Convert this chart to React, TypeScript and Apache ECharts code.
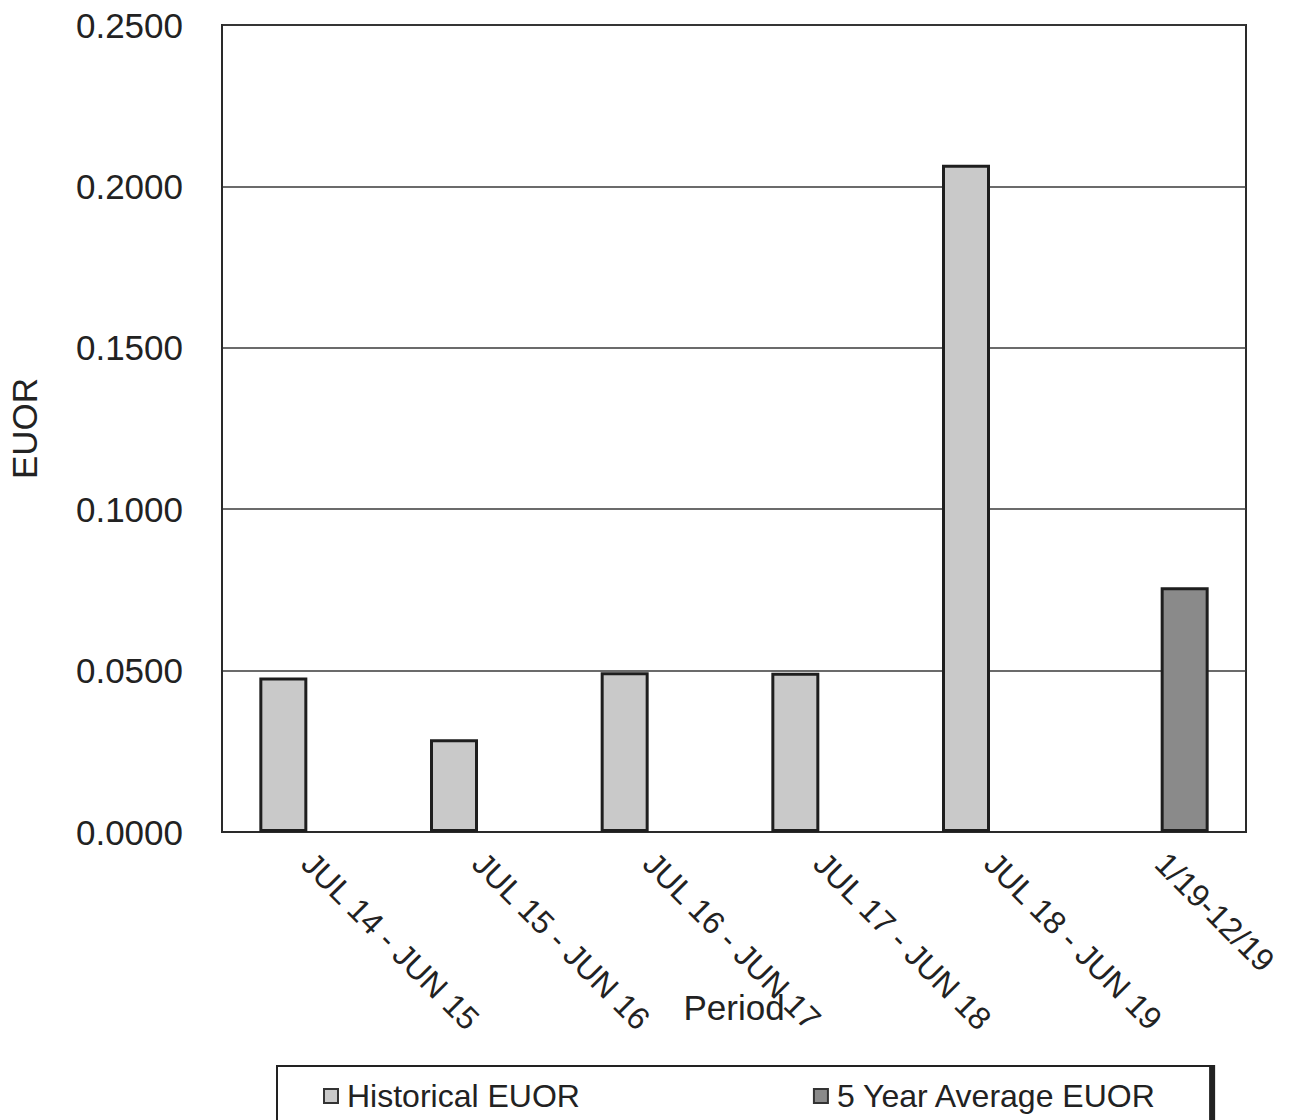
import React, { useEffect, useRef } from "react";
import * as echarts from "echarts";

// Reporting periods along the x axis
const periods = [
  "JUL 14 - JUN 15",
  "JUL 15 - JUN 16",
  "JUL 16 - JUN 17",
  "JUL 17 - JUN 18",
  "JUL 18 - JUN 19",
  "1/19-12/19",
];

// EUOR per period; "-" leaves the slot empty
const historicalEUOR: (number | string)[] = [0.0479, 0.0287, 0.0495, 0.0493, 0.2067, "-"];
const fiveYearAverageEUOR: (number | string)[] = ["-", "-", "-", "-", "-", 0.0758];

const yMin = 0;
const yMax = 0.25;
const yStep = 0.05;

const FONT = "Liberation Sans, Arial, sans-serif";

export default function App() {
  const ref = useRef<HTMLDivElement>(null);

  useEffect(() => {
    if (!ref.current) return;
    const chart = echarts.init(ref.current, undefined, { renderer: "svg" });
    chart.setOption({
      animation: false,
      backgroundColor: "#ffffff",
      textStyle: { fontFamily: FONT, color: "#222" },
      grid: {
        left: 222,
        right: 43,
        top: 25,
        bottom: 288,
        containLabel: false,
        outerBoundsMode: "none",
        show: true,
        borderColor: "#2a2a2a",
        borderWidth: 2,
        backgroundColor: "#ffffff",
      },
      legend: {
        left: 277,
        top: 1066,
        padding: [14, 53, 14, 46],
        itemGap: 233,
        itemWidth: 14,
        itemHeight: 14,
        icon: "rect",
        borderColor: "#222",
        borderWidth: 2,
        shadowColor: "#222",
        shadowOffsetX: 4,
        shadowOffsetY: 0,
        shadowBlur: 0,
        backgroundColor: "#ffffff",
        textStyle: { fontSize: 32, fontFamily: FONT, color: "#222", padding: [0, 0, 0, 4] },
        itemStyle: { borderColor: "#333", borderWidth: 2 },
        data: ["Historical EUOR", "5 Year Average EUOR"],
      },
      xAxis: {
        type: "category",
        data: periods,
        name: "Period",
        nameLocation: "middle",
        nameGap: 158,
        nameMoveOverlap: false,
        nameTextStyle: { fontSize: 35, fontFamily: FONT, color: "#222" },
        axisLine: { show: true, lineStyle: { color: "#2a2a2a", width: 2 } },
        axisTick: { show: false },
        axisLabel: {
          rotate: -45,
          fontSize: 32,
          fontFamily: FONT,
          color: "#222",
          margin: 26,
          interval: 0,
          hideOverlap: false,
        },
      },
      yAxis: {
        type: "value",
        min: yMin,
        max: yMax,
        interval: yStep,
        name: "EUOR",
        nameLocation: "middle",
        nameGap: 180,
        nameRotate: 90,
        nameMoveOverlap: false,
        nameTextStyle: { fontSize: 35, fontFamily: FONT, color: "#222" },
        axisLine: { show: true, lineStyle: { color: "#2a2a2a", width: 2 } },
        axisTick: { show: false },
        axisLabel: {
          fontSize: 35,
          fontFamily: FONT,
          color: "#222",
          margin: 39,
          formatter: (v: number) => v.toFixed(4),
        },
        splitLine: { show: true, lineStyle: { color: "#3a3a3a", width: 1.5 } },
      },
      series: [
        {
          name: "Historical EUOR",
          type: "bar",
          data: historicalEUOR,
          barWidth: 48,
          barGap: "0%",
          itemStyle: { color: "#c9c9c9", borderColor: "#1e1e1e", borderWidth: 3 },
        },
        {
          name: "5 Year Average EUOR",
          type: "bar",
          data: fiveYearAverageEUOR,
          barWidth: 48,
          barGap: "0%",
          itemStyle: { color: "#8a8a8a", borderColor: "#1e1e1e", borderWidth: 3 },
        },
      ],
    });
    return () => chart.dispose();
  }, []);

  return (
    <div
      ref={ref}
      style={{ position: "absolute", left: 0, top: 0, width: 1289, height: 1120 }}
    />
  );
}
